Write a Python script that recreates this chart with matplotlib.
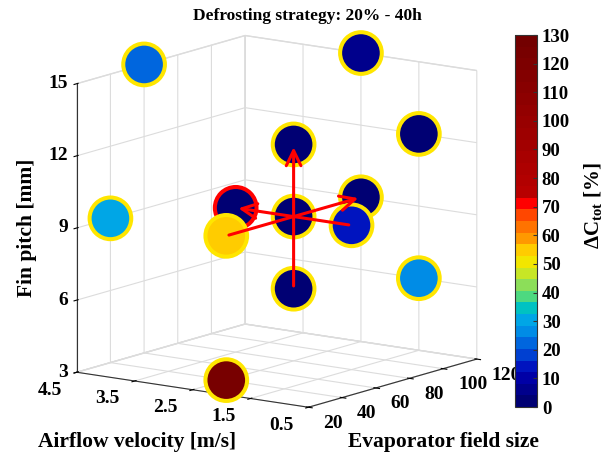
import matplotlib.pyplot as plt
import numpy as np
from matplotlib.cm import ScalarMappable
from matplotlib.colors import ListedColormap, Normalize
from matplotlib.patches import FancyArrowPatch
from mpl_toolkits.mplot3d import proj3d

plt.rcParams['font.family'] = ['Liberation Serif', 'DejaVu Serif']
plt.rcParams['font.weight'] = 'bold'
plt.rcParams['mathtext.fontset'] = 'custom'
plt.rcParams['mathtext.rm'] = 'Liberation Serif:bold'
plt.rcParams['mathtext.bf'] = 'Liberation Serif:bold'
plt.rcParams['grid.color'] = '#dcdcdc'
plt.rcParams['grid.linewidth'] = 0.8

# design points: evaporator field size, airflow velocity [m/s], fin pitch [mm]
evap_size = [60, 120, 120, 80, 40, 80, 80, 120, 80, 40, 80, 120, 40]
air_velocity = [4.5, 2.5, 1.5, 2.5, 4.5, 3.5, 2.5, 2.5, 1.5, 2.5, 2.5, 1.5, 2.5]
fin_pitch = [15, 15, 12, 12, 9, 9, 9, 9, 9, 9, 6, 6, 3]
delta_c = [22, 5, 4, 4, 32, 2, 3, 3, 14, 55, 4, 27, 125]
best_idx = 5

# arrows from low to high level of each factor, through the centre point
arrow_from = [(80, 2.5, 6), (40, 2.5, 9), (80, 1.5, 9)]
arrow_to = [(80, 2.5, 12), (120, 2.5, 9), (80, 3.5, 9)]

evap_ticks = [20, 40, 60, 80, 100, 120]
air_ticks = [0.5, 1.5, 2.5, 3.5, 4.5]
fin_ticks = [3, 6, 9, 12, 15]
cbar_ticks = list(range(0, 131, 10))

# 32-level map: jet-like up to ~70 %, dark reds above
low_colors = [
    (0.00, 0.00, 0.45), (0.00, 0.00, 0.55), (0.00, 0.00, 0.65), (0.00, 0.08, 0.75),
    (0.00, 0.25, 0.82), (0.00, 0.40, 0.87), (0.00, 0.55, 0.90), (0.00, 0.65, 0.90),
    (0.00, 0.76, 0.76), (0.30, 0.85, 0.50), (0.55, 0.87, 0.35), (0.78, 0.90, 0.15),
    (0.95, 0.90, 0.00), (1.00, 0.80, 0.00), (1.00, 0.60, 0.00), (1.00, 0.45, 0.00),
    (1.00, 0.28, 0.00), (1.00, 0.00, 0.00),
]
high_colors = [(r, 0.0, 0.0) for r in np.linspace(0.72, 0.45, 14)]
cmap = ListedColormap(low_colors + high_colors)
norm = Normalize(0, 130)


class Arrow3D(FancyArrowPatch):
    def __init__(self, start, end, **kwargs):
        super().__init__((0, 0), (0, 0), **kwargs)
        self._verts3d = list(zip(start, end))

    def do_3d_projection(self, renderer=None):
        xs, ys, zs = self._verts3d
        px, py, pz = proj3d.proj_transform(xs, ys, zs, self.axes.M)
        self.set_positions((px[0], py[0]), (px[1], py[1]))
        return np.min(pz)


fig = plt.figure(figsize=(6.12, 4.55), dpi=100)
ax = fig.add_axes([0.043, 0.041, 0.8, 0.92], projection='3d', proj_type='ortho')
ax.computed_zorder = False
ax.view_init(elev=12, azim=-144)
ax.set_box_aspect((1, 1, 1.03), zoom=1.162)

edge_colors = ['#ffe600'] * len(delta_c)
edge_colors[best_idx] = '#ff0000'
ax.scatter(evap_size, air_velocity, fin_pitch, c=delta_c, cmap=cmap, norm=norm,
           s=900, edgecolors=edge_colors, linewidths=2.9, depthshade=False,
           alpha=1, zorder=2)

for start, end in zip(arrow_from, arrow_to):
    arr = Arrow3D(start, end, arrowstyle='->,head_length=0.45,head_width=0.22',
                  mutation_scale=24, color='red', lw=2.2, zorder=5)
    ax.add_artist(arr)

ax.set_xlim(20, 120)
ax.set_ylim(0.5, 4.5)
ax.set_zlim(3, 15)
ax.set_xticks(evap_ticks)
ax.set_yticks(air_ticks)
ax.set_zticks(fin_ticks)

for axis in (ax.xaxis, ax.yaxis, ax.zaxis):
    axis.set_tick_params(labelbottom=False, labeltop=False)
    axis.set_pane_color((1, 1, 1, 1))
    axis.pane.set_edgecolor('#dcdcdc')
    axis.line.set_color('#333333')

proj = ax.get_proj()


def tick_text(x, y, z, label, dx, dy, ha):
    px, py, _ = proj3d.proj_transform(x, y, z, proj)
    ax.annotate(label, xy=(px, py), xycoords='data', xytext=(dx, dy),
                textcoords='offset pixels', ha=ha, va='center', fontsize=14,
                fontweight='bold', annotation_clip=False)


# tick labels along the front edges of the box
for v in fin_ticks:
    tick_text(20, 4.5, v, f'{v:g}', -9, 0, 'right')
for v in air_ticks:
    tick_text(20, v, 3, f'{v:g}', -15, -18, 'right')
for v in evap_ticks:
    tick_text(v, 0.5, 3, f'{v:g}', 15, -16, 'left')

fig.text(0.503, 0.965, 'Defrosting strategy: 20% - 40h', ha='center', va='center',
         fontsize=12.5, fontweight='bold')
fig.text(0.044, 0.50, 'Fin pitch [mm]', ha='center', va='center', rotation=90,
         fontsize=15.5, fontweight='bold')
fig.text(0.224, 0.029, 'Airflow velocity [m/s]', ha='center', va='center',
         fontsize=15.5, fontweight='bold')
fig.text(0.724, 0.029, 'Evaporator field size', ha='center', va='center',
         fontsize=15.5, fontweight='bold')

cax = fig.add_axes([515 / 612, 48 / 455, 22 / 612, 372 / 455])
cbar = fig.colorbar(ScalarMappable(norm=norm, cmap=cmap), cax=cax, ticks=cbar_ticks)
cbar.ax.tick_params(direction='in', labelsize=13.5, length=3, color='#333333')
cbar.outline.set_edgecolor('#333333')
cbar.outline.set_linewidth(0.8)
cbar.set_label(r'$\Delta\mathrm{C}_{\mathrm{tot}}$ [%]', fontsize=15,
               fontweight='bold', labelpad=9)
cbar.ax.yaxis.label.set_y(0.54)

fig.savefig('out.png', dpi=100)
